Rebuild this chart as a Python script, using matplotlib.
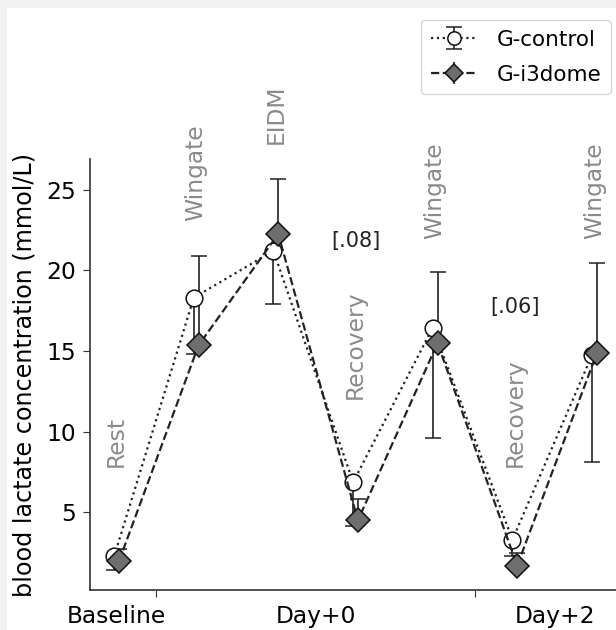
import numpy as np
import matplotlib
matplotlib.use('Agg')
from matplotlib import pyplot as plt
from matplotlib.patches import Rectangle

# protocol timepoints
phases = ['Rest', 'Wingate', 'EIDM', 'Recovery', 'Wingate', 'Recovery', 'Wingate']
phase_label_y = [7.8, 23.05, 27.85, 12.0, 21.95, 7.8, 21.95]
days = ['Baseline', 'Day+0', 'Day+2']
day_centers = [0, 2.5, 5.5]
day_bounds = [0.5, 4.5]

# blood lactate (mmol/L)
control_mean = [2.27, 18.3, 21.2, 6.86, 16.45, 3.3, 14.75]
control_err = [0.87, 3.5, 3.3, 2.73, 6.83, 1.0, 6.65]    # only lower side shown
i3dome_mean = [1.96, 15.35, 22.25, 4.5, 15.48, 1.7, 14.86]
i3dome_err = [0.74, 5.51, 3.41, 1.33, 4.39, 0.8, 5.59]   # only upper side shown

p_values = ['[.08]', '[.06]']
p_x = [3, 5]
p_y = [21.8, 17.7]

FS = 16.8

fig = plt.figure(figsize=(6.16, 6.30), dpi=100, facecolor='#f2f2f2')
fig.patches.append(Rectangle((7 / 616, 0), 1, 1 - 8 / 630, transform=fig.transFigure,
                             facecolor='white', edgecolor='none', zorder=-10))
ax = fig.add_axes([90 / 616, 40 / 630, 531 / 616, 430.7 / 630])
ax.set_facecolor('white')

x = np.arange(len(phases))
zero = np.zeros(len(phases))

c = ax.errorbar(x - 0.03, control_mean, yerr=[control_err, zero], fmt='o', ls=':',
                color='#222222', lw=1.6, ms=12, mfc='white', mec='#111111', mew=1.1,
                ecolor='#222222', elinewidth=1.2, capsize=6, capthick=1.2,
                label='G-control')
c[1][1].set_visible(False)
d = ax.errorbar(x + 0.03, i3dome_mean, yerr=[zero, i3dome_err], fmt='D', ls='--',
                color='#222222', lw=1.6, ms=12, mfc='#6e6e6e', mec='#111111', mew=1.1,
                ecolor='#222222', elinewidth=1.2, capsize=6, capthick=1.2,
                label='G-i3dome')
d[1][0].set_visible(False)

for i, name in enumerate(phases):
    ax.text(x[i], phase_label_y[i], name, rotation=90, ha='center', va='bottom',
            color='#8a8a8a', fontsize=FS, clip_on=False)

for px, py, s in zip(p_x, p_y, p_values):
    ax.text(px, py, s, ha='center', va='center', color='#222222', fontsize=15)

ax.set_xticks(day_bounds)
ax.set_xticklabels([])
ax.set_xticks(day_centers, minor=True)
ax.set_xticklabels(days, minor=True)
ax.tick_params(axis='x', which='minor', length=0, pad=11, labelsize=FS)
ax.tick_params(axis='x', which='major', length=5, color='#333333')
ax.set_yticks([5, 10, 15, 20, 25])
ax.tick_params(axis='y', labelsize=FS, length=5, pad=5, color='#333333')

ax.set_ylabel('blood lactate concentration (mmol/L)', fontsize=17.2, labelpad=7)

for side in ['top', 'right']:
    ax.spines[side].set_visible(False)
for side in ['left', 'bottom']:
    ax.spines[side].set_color('#333333')
    ax.spines[side].set_linewidth(1.2)

ax.legend(handles=[c, d], loc='upper right', bbox_to_anchor=(610.7 / 616, 1 - 20 / 630),
          bbox_transform=fig.transFigure, borderaxespad=0, fontsize=15.5,
          markerscale=0.8, borderpad=0.45, labelspacing=0.7, handletextpad=0.85,
          handlelength=2.2)

fig.savefig('out.png', dpi=100, facecolor=fig.get_facecolor())
